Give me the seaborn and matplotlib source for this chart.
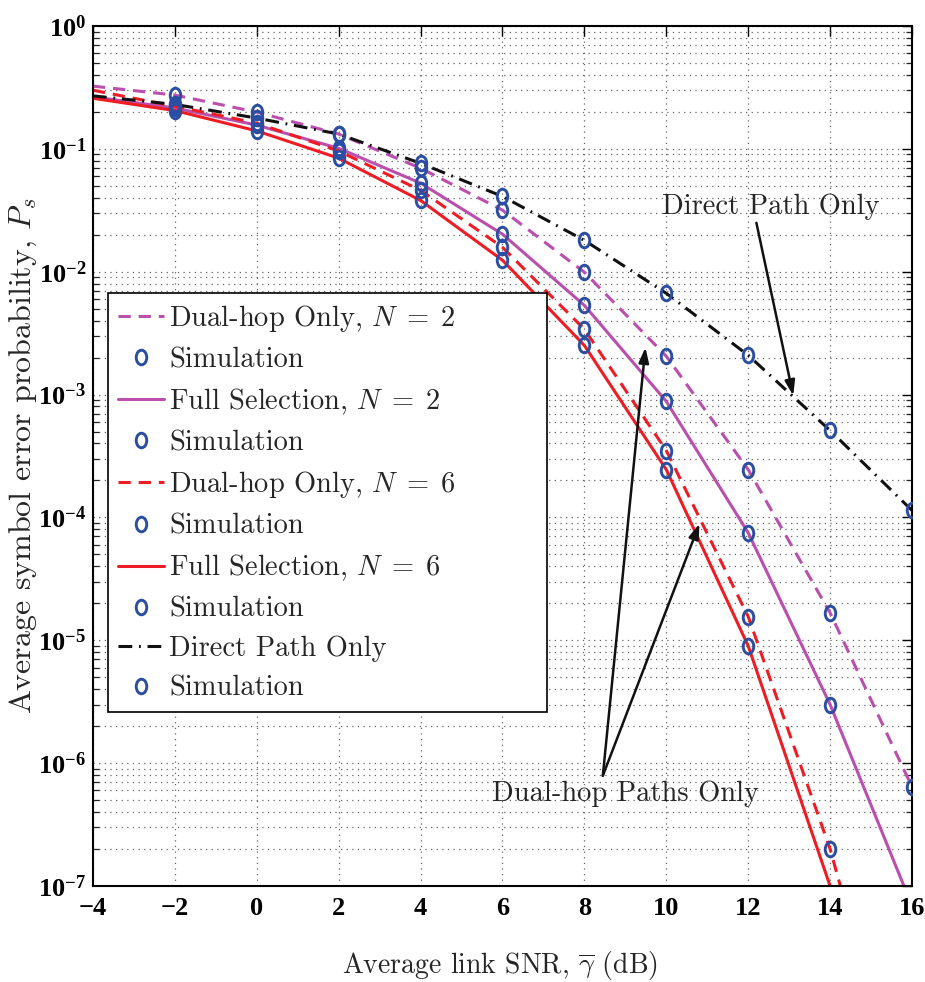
import numpy as np
import pandas as pd
import seaborn as sns
import matplotlib
matplotlib.use("Agg")
import matplotlib.pyplot as plt
from matplotlib.path import Path
from matplotlib.transforms import Affine2D
from matplotlib.ticker import FuncFormatter, NullFormatter, FixedLocator
from matplotlib.font_manager import FontProperties

# ---------------- data ----------------
snr = [-4, -2, 0, 2, 4, 6, 8, 10, 12, 14, 16]
dual_n2 = [0.324, 0.274, 0.199, 0.132, 0.0696, 0.0317, 0.0099, 2.05e-3, 2.45e-4, 1.67e-5, 6.4e-7]
full_n2 = [0.265, 0.215, 0.156, 0.101, 0.0526, 0.0202, 5.32e-3, 8.8e-4, 7.5e-5, 3.0e-6, 6.9e-8]
dual_n6 = [0.300, 0.222, 0.162, 0.096, 0.046, 0.0158, 3.4e-3, 3.5e-4, 1.56e-5, 2.0e-7, 8e-10]
full_n6 = [0.258, 0.205, 0.140, 0.084, 0.038, 0.0124, 2.51e-3, 2.45e-4, 9.0e-6, 1.0e-7, 6e-10]
direct = [0.270, 0.230, 0.178, 0.132, 0.0763, 0.041, 0.018, 6.67e-3, 2.09e-3, 5.1e-4, 1.14e-4]

sim_snr = [-2, 0, 2, 4, 6, 8, 10, 12, 14, 16]
sim_dual_n2 = [0.274, 0.199, 0.132, 0.0696, 0.0317, 0.0099, 2.05e-3, 2.45e-4, 1.67e-5, 6.4e-7]
sim_full_n2 = [0.215, 0.156, 0.101, 0.0526, 0.0202, 5.32e-3, 8.8e-4, 7.5e-5, 3.0e-6]
sim_dual_n6 = [0.222, 0.162, 0.096, 0.046, 0.0158, 3.4e-3, 3.5e-4, 1.56e-5, 2.0e-7]
sim_full_n6 = [0.205, 0.140, 0.084, 0.038, 0.0124, 2.51e-3, 2.45e-4, 9.0e-6]
sim_direct = [0.230, 0.178, 0.132, 0.0763, 0.041, 0.018, 6.67e-3, 2.09e-3, 5.1e-4, 1.14e-4]

x_ticks = [-4, -2, 0, 2, 4, 6, 8, 10, 12, 14, 16]
y_ticks = [1e-7, 1e-6, 1e-5, 1e-4, 1e-3, 1e-2, 1e-1, 1e0]

labels = [
    r"Dual-hop Only, $N\;=\;2$",
    r"Full Selection, $N\;=\;2$",
    r"Dual-hop Only, $N\;=\;6$",
    r"Full Selection, $N\;=\;6$",
    "Direct Path Only",
]
sim_label = "Simulation"

# ---------------- style ----------------
sns.set_style("white")
plt.rcParams.update({
    "font.family": ["Liberation Serif", "DejaVu Serif"],
    "font.weight": "bold",
    "mathtext.fontset": "custom",
    "mathtext.rm": "Liberation Serif",
    "mathtext.bf": "Liberation Serif:bold",
    "mathtext.it": "Liberation Serif:italic",
    "axes.unicode_minus": True,
})

PURPLE = "#bb4fae"
RED = "#ee1c25"
BLACK = "#111111"
BLUE = "#2b4ea2"

circ = Path.unit_circle()
ellipse = Path(Affine2D().scale(0.72, 1.0).transform(circ.vertices), circ.codes)

fig = plt.figure(figsize=(9.25, 9.82), dpi=100)
ax = fig.add_axes([93 / 925, 1 - 886 / 982, (912 - 93) / 925, (886 - 26) / 982])

series = [
    (dual_n2, sim_dual_n2, PURPLE, (0, (4.0, 2.6))),
    (full_n2, sim_full_n2, PURPLE, "-"),
    (dual_n6, sim_dual_n6, RED, (0, (4.0, 2.6))),
    (full_n6, sim_full_n6, RED, "-"),
    (direct, sim_direct, BLACK, (0, (4.5, 2.2, 0.6, 2.2))),
]

handles = []
hlabels = []
for (vals, sims, col, ls), lab in zip(series, labels):
    n0 = len(ax.lines)
    sns.lineplot(x=snr, y=vals, ax=ax, color=col, linestyle=ls, linewidth=2.2,
                 sort=False, estimator=None)
    handles.append(ax.lines[n0])
    hlabels.append(lab)
    n1 = len(ax.lines)
    sns.lineplot(x=sim_snr[:len(sims)], y=sims, ax=ax, linestyle="", marker=ellipse,
                 markersize=10.5, markerfacecolor="none", markeredgecolor=BLUE,
                 markeredgewidth=2.1, color=BLUE, sort=False, estimator=None, zorder=5)
    handles.append(ax.lines[n1])
    hlabels.append(sim_label)

ax.set_yscale("log")
ax.set_xlim(-4, 16)
ax.set_ylim(1e-7, 1)

ax.xaxis.set_major_locator(FixedLocator(x_ticks))
ax.yaxis.set_major_locator(FixedLocator(y_ticks))
minor = [m * 10.0 ** e for e in range(-7, 0) for m in range(2, 10)]
ax.yaxis.set_minor_locator(FixedLocator(minor))
ax.yaxis.set_minor_formatter(NullFormatter())
ax.yaxis.set_major_formatter(FuncFormatter(
    lambda v, p: r"$\mathbf{10}^{%d}$" % int(round(np.log10(v)))))

ax.grid(True, which="major", axis="both", color="#666666", linestyle=(0, (1, 3.5)), linewidth=0.9)
ax.grid(True, which="minor", axis="y", color="#666666", linestyle=(0, (1, 3.5)), linewidth=0.9)

ax.tick_params(axis="both", which="major", direction="in", length=7, width=1.0,
               top=True, right=True, labelsize=19, colors="black")
ax.tick_params(axis="y", which="major", pad=5)
ax.tick_params(axis="x", which="major", pad=8)
ax.tick_params(axis="y", which="minor", direction="in", length=4, width=0.9, left=True, right=True)
for lbl in ax.get_xticklabels() + ax.get_yticklabels():
    lbl.set_fontweight("bold")
for sp in ax.spines.values():
    sp.set_color("black")
    sp.set_linewidth(1.5)

cm_font = dict(fontfamily="cmr10", fontweight="normal", math_fontfamily="cm")
ax.set_xlabel(r"Average link SNR, $\overline{\gamma}$ (dB)", fontsize=20, **cm_font)
ax.set_ylabel(r"Average symbol error probability, $P_s$", fontsize=23, **cm_font)
ax.xaxis.set_label_coords(0.497, -0.073)
ax.yaxis.set_label_coords(-0.066, 0.5)

leg_prop = FontProperties(family="cmr10", size=20.5, weight="normal", math_fontfamily="cm")
leg = ax.legend(handles, hlabels, prop=leg_prop, loc="upper left",
                bbox_to_anchor=(0.0185, 0.6895, 0.536, 0.0), mode="expand",
                borderaxespad=0, frameon=True, fancybox=False, framealpha=1,
                edgecolor="black", handlelength=1.6, handletextpad=0.2,
                labelspacing=0.46, borderpad=0.35)
leg.get_frame().set_linewidth(1.2)
leg.set_zorder(10)

arrow = dict(arrowstyle="-|>,head_length=0.9,head_width=0.3", color=BLACK, lw=1.8,
             shrinkA=0, shrinkB=0)
ax.text(12.55, 0.034, "Direct Path Only", fontsize=20.5, ha="center", va="center", **cm_font)
ax.annotate("", xy=(13.1, 9.8e-4), xytext=(12.2, 0.025), arrowprops=arrow)

ax.text(9.0, 5.6e-7, "Dual-hop Paths Only", fontsize=20.5, ha="center", va="center", **cm_font)
ax.annotate("", xy=(9.49, 2.42e-3), xytext=(8.45, 7.9e-7), arrowprops=arrow)
ax.annotate("", xy=(10.81, 8.9e-5), xytext=(8.45, 7.9e-7), arrowprops=arrow)

fig.savefig("out.png", dpi=100)
